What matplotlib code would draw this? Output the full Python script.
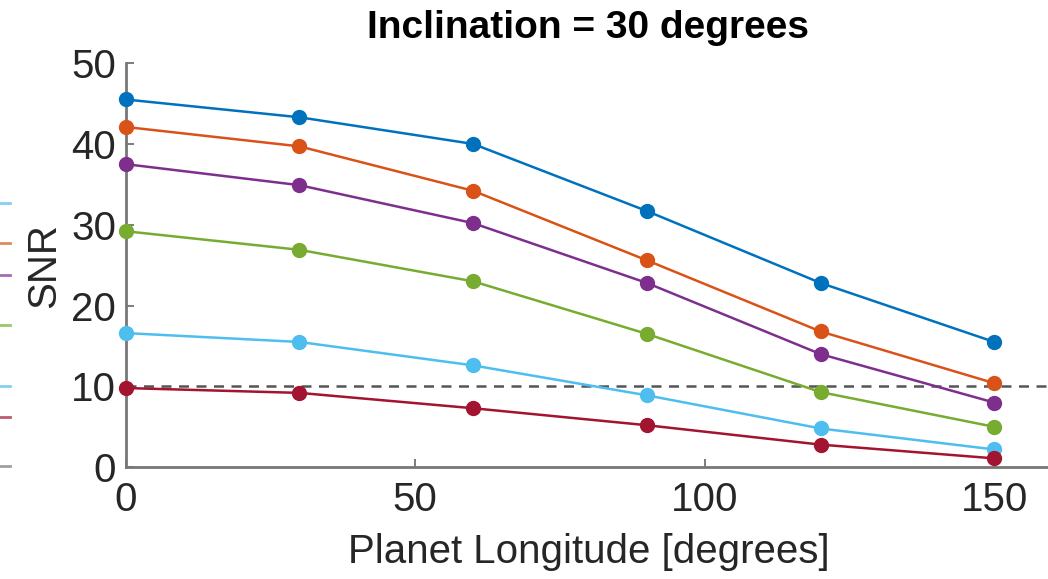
import numpy as np
import matplotlib.pyplot as plt
from matplotlib.lines import Line2D

plt.rcParams['font.family'] = ['Liberation Sans', 'DejaVu Sans']

# Data
longitude = [0, 30, 60, 90, 120, 150]
snr_blue = [45.5, 43.3, 40.0, 31.7, 22.8, 15.5]
snr_orange = [42.1, 39.7, 34.2, 25.6, 16.8, 10.4]
snr_purple = [37.5, 34.9, 30.2, 22.8, 14.0, 8.0]
snr_green = [29.2, 26.9, 23.0, 16.5, 9.3, 5.0]
snr_cyan = [16.6, 15.5, 12.6, 8.9, 4.8, 2.2]
snr_red = [9.8, 9.2, 7.3, 5.2, 2.8, 1.1]
threshold = 10

series = [snr_blue, snr_orange, snr_purple, snr_green, snr_cyan, snr_red]
colors = ['#0072BD', '#D95319', '#7E2F8E', '#77AC30', '#4DBEEE', '#A2142F']

fig = plt.figure(figsize=(10.48, 5.79), dpi=100)
ax = fig.add_axes([0.120, 0.193, 1.004 - 0.120, 0.891 - 0.193])

for y, c in zip(series, colors):
    ax.plot(longitude, y, '-o', color=c, lw=1.8, ms=10, clip_on=False, zorder=3)

ax.axhline(threshold, color='#555555', ls=(0, (4, 3)), lw=1.8, zorder=2)

ax.set_xlim(0, 160)
ax.set_ylim(0, 50)
ax.set_xticks([0, 50, 100, 150])
ax.set_yticks([0, 10, 20, 30, 40, 50])
ax.tick_params(direction='in', length=6, width=1.2, color='#666666',
               labelsize=29, labelcolor='#262626', pad=7)
ax.tick_params(axis='x', pad=10)
for s in ['top', 'right']:
    ax.spines[s].set_visible(False)
for s in ['left', 'bottom']:
    ax.spines[s].set_color('#777777')
    ax.spines[s].set_linewidth(2)

ax.set_xlabel('Planet Longitude [degrees]', fontsize=29, color='#262626', labelpad=10)
ax.set_ylabel('SNR', fontsize=29, color='#262626', labelpad=6)
fig.text(0.561, 0.951, 'Inclination = 30 degrees', fontsize=28, fontweight='bold',
         ha='center', va='center', color='black')

# remnants of a neighbouring legend cut off at the left edge
stub_colors = ['#4DBEEE', '#D95319', '#7E2F8E', '#77AC30', '#4DBEEE', '#A2142F', '#777777']
stub_rows = [203, 243, 275, 325, 386, 417, 466]
for c, r in zip(stub_colors, stub_rows):
    yy = 1 - r / 579
    fig.add_artist(Line2D([0, 0.010], [yy, yy], color=c, lw=2, alpha=0.7,
                          transform=fig.transFigure))

fig.savefig('out.png', dpi=100)
